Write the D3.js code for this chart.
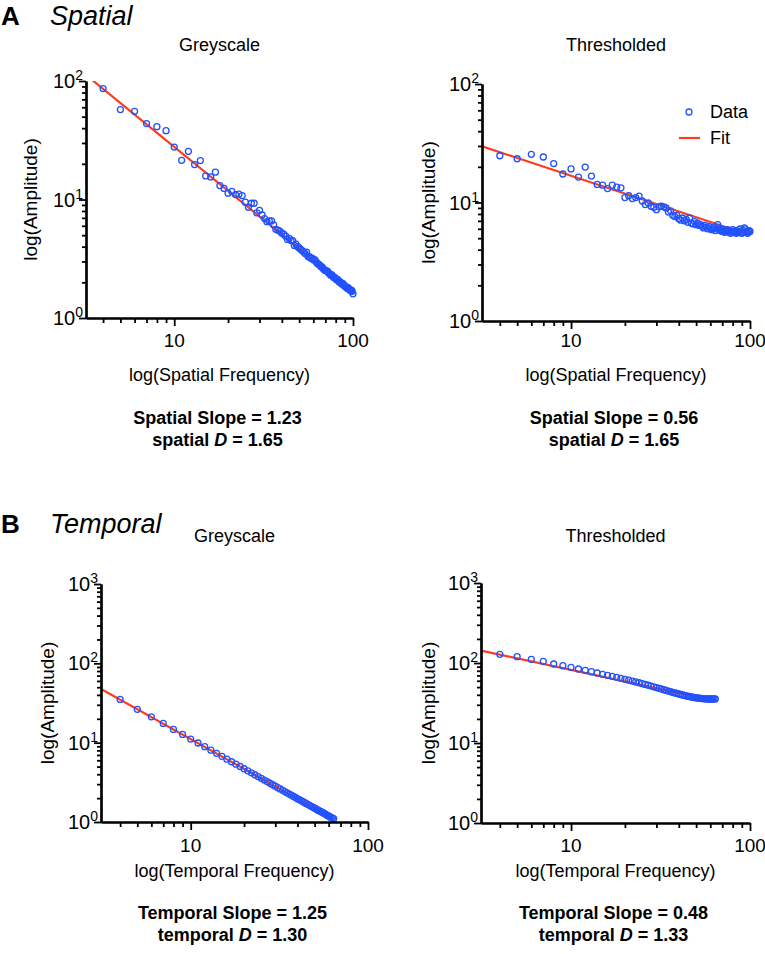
<!DOCTYPE html>
<html><head><meta charset="utf-8">
<script src="https://cdn.jsdelivr.net/npm/d3@7"></script>
<style>
body{margin:0;background:#fff}
text{font-family:"Liberation Sans",Arial,Helvetica,sans-serif;fill:#000}
</style></head>
<body><svg id="c" width="765" height="954"></svg>
<script>
// ---------------- DATA ----------------
const spatialFreq = [4,5,6,7,8,9,10,11,12,13,14,15,16,17,18,19,20,21,22,23,24,25,26,27,28,29,30,
 31,32,33,34,35,36,37,38,39,40,41,42,43,44,45,46,47,48,49,50,51,52,53,54,55,56,57,58,59,60,
 61,62,63,64,65,66,67,68,69,70,71,72,73,74,75,76,77,78,79,80,81,82,83,84,85,86,87,88,89,90,
 91,92,93,94,95,96,97,98,99,100];
const spatialGreyAmp = [86.3,57.4,55.5,43.7,41.2,38.1,27.7,21.4,25.5,19.7,21.3,15.8,15.5,17.0,13.1,12.4,11.3,11.7,11.0,11.1,10.8,9.5,8.6,9.3,9.3,7.7,8.1,
 7.4,6.9,6.5,6.6,6.6,6.1,5.6,5.5,5.4,5.2,5.1,4.9,4.6,4.7,4.5,4.5,4.1,4.2,4.0,3.9,3.8,3.7,3.6,3.5,3.6,3.3,3.3,3.2,3.2,3.1,
 3.1,3.0,2.9,2.85,2.8,2.72,2.7,2.62,2.55,2.52,2.5,2.48,2.4,2.36,2.3,2.32,2.25,2.2,2.2,2.14,2.1,2.12,2.05,2.0,2.02,1.96,1.93,1.95,1.88,1.85,
 1.85,1.8,1.78,1.8,1.75,1.72,1.7,1.72,1.68,1.6];
const spatialThreshAmp = [24.8,23.4,25.5,24.2,21.3,17.4,19.2,16.4,19.9,16.7,14.2,14.0,13.1,14.0,13.5,13.3,11.0,11.4,10.8,11.0,11.3,10.3,9.6,9.9,9.3,9.1,8.7,
 9.2,9.3,9.2,9.0,8.3,8.5,7.8,7.6,7.8,7.3,7.1,7.4,7.0,7.2,6.8,7.4,6.7,6.6,6.9,6.5,6.7,6.4,6.5,6.3,6.1,6.4,6.2,6.0,6.3,6.1,
 5.9,6.0,6.2,5.8,6.0,6.5,6.1,5.8,5.9,5.7,5.9,5.6,5.8,5.7,5.9,5.6,5.8,5.5,5.7,5.9,5.7,5.6,5.8,5.5,5.6,5.7,5.9,6.0,5.6,5.5,
 5.6,5.8,6.1,6.0,5.6,5.7,5.5,5.7,5.8,5.7];
const temporalFreq = [4,5,6,7,8,9,10,11,12,13,14,15,16,17,18,19,20,21,22,23,24,25,26,27,28,29,30,
 31,32,33,34,35,36,37,38,39,40,41,42,43,44,45,46,47,48,49,50,51,52,53,54,55,56,57,58,59,60,61,62,63,64];
const temporalGreyAmp = [35.1,26.3,21.2,17.5,14.7,12.7,11.1,9.91,8.89,8.04,7.33,6.73,6.20,5.75,5.36,5.01,4.69,4.42,4.17,3.94,3.74,3.55,3.38,3.23,3.08,2.95,2.83,
 2.71,2.61,2.51,2.42,2.33,2.25,2.18,2.10,2.04,1.97,1.91,1.86,1.80,1.75,1.70,1.66,1.61,1.57,1.53,1.49,1.46,1.42,1.39,1.36,1.33,1.30,1.27,1.24,1.21,1.19,1.16,1.14,1.12,1.10];
const temporalThreshAmp = [128.5,120,111,105,97.2,92.6,88.3,84.1,80.9,77.8,75.0,72.1,70.1,68.1,66.2,64.3,62.5,61.0,59.5,58.0,56.6,55.2,53.9,52.7,51.5,50.4,49.3,
 48.3,47.3,46.3,45.4,44.6,43.8,43.0,42.3,41.6,41.0,40.4,39.8,39.3,38.8,38.4,38.0,37.6,37.3,37.0,36.7,36.5,36.3,36.1,35.9,35.8,35.7,35.6,35.5,35.5,35.5,35.5,35.5,35.6,35.6];
// fitted power-law lines: |slope| and amplitude at frequency 10
const fitSlope = [1.23, 0.50, 1.25, 0.48];
const fitAt10 = [27.8, 16.8, 11.1, 81.9];
const panelTitles = ["Greyscale","Thresholded","Greyscale","Thresholded"];
const xTitles = ["log(Spatial Frequency)","log(Spatial Frequency)","log(Temporal Frequency)","log(Temporal Frequency)"];
const yTitle = "log(Amplitude)";
const slopeLabels = ["Spatial Slope = 1.23","Spatial Slope = 0.56","Temporal Slope = 1.25","Temporal Slope = 0.48"];
const dPrefix = ["spatial ","spatial ","temporal ","temporal "];
const dValues = ["1.65","1.65","1.30","1.33"];
const xTickLabels = [10,100];
const sectionLabels = ["A","B"];
const sectionNames = ["Spatial","Temporal"];
const legendLabels = ["Data","Fit"];

// ---------------- LAYOUT ----------------
const BLUE = "#2152ff", RED = "#ff3b1c";
const svg = d3.select("#c");
const panels = [
 {x0:86, x1:353, yTop:81, yBot:318, xmin:3.21, ymax:100, freq:spatialFreq, amp:spatialGreyAmp, xmaxFit:100, yTitleX:31, legend:false},
 {x0:482, x1:750, yTop:84, yBot:321, xmin:3.18, ymax:100, freq:spatialFreq, amp:spatialThreshAmp, xmaxFit:100, yTitleX:429, legend:true},
 {x0:101, x1:368, yTop:584, yBot:822, xmin:3.12, ymax:1000, freq:temporalFreq, amp:temporalGreyAmp, xmaxFit:64, yTitleX:48, legend:false},
 {x0:481, x1:750, yTop:583, yBot:823, xmin:3.14, ymax:1000, freq:temporalFreq, amp:temporalThreshAmp, xmaxFit:64, yTitleX:429, legend:false}
];
const rowText = [
 {title:51, tick:347, xt:381, s1:424, s2:446},
 {title:542, tick:852, xt:877, s1:919, s2:941}
];

// section headers
[[25,"A","Spatial"],[533,"B","Temporal"]].forEach((h,i)=>{
  svg.append("text").attr("x",1).attr("y",h[0]).attr("font-size",26).attr("font-weight","bold").text(sectionLabels[i]);
  svg.append("text").attr("x",50).attr("y",h[0]).attr("font-size",27).attr("font-style","italic").text(sectionNames[i]);
});

panels.forEach((p,i)=>{
  const row = rowText[i<2?0:1];
  const x = d3.scaleLog().domain([p.xmin,100]).range([p.x0,p.x1]);
  const y = d3.scaleLog().domain([1,p.ymax]).range([p.yBot,p.yTop]);
  const g = svg.append("g");
  const cx = (p.x0+p.x1)/2;

  const cid = "clip"+i;
  svg.append("clipPath").attr("id",cid).append("rect")
    .attr("x",p.x0).attr("y",p.yTop).attr("width",p.x1-p.x0).attr("height",p.yBot-p.yTop);

  // fit line
  const fitF = f => fitAt10[i]*Math.pow(f/10,-fitSlope[i]);
  const fx = [p.xmin, p.xmaxFit];
  g.append("line").attr("clip-path",`url(#${cid})`)
    .attr("x1",x(fx[0])).attr("y1",y(fitF(fx[0])))
    .attr("x2",x(fx[1])).attr("y2",y(fitF(fx[1])))
    .attr("stroke",RED).attr("stroke-width",2.2);

  // data
  g.selectAll("circle.d").data(p.freq).enter().append("circle")
    .attr("cx",d=>x(d)).attr("cy",(d,k)=>y(p.amp[k])).attr("r",3)
    .attr("fill","none").attr("stroke",BLUE).attr("stroke-width",1.3);

  // axes
  const decades = [];
  for(let v=1; v<=p.ymax; v*=10) decades.push(v);
  const yMinor = [];
  decades.slice(0,-1).forEach(d=>{ for(let k=2;k<10;k++) yMinor.push(d*k); });
  const xMinor = [4,5,6,7,8,9,20,30,40,50,60,70,80,90];

  const ya = g.append("g").attr("transform",`translate(${p.x0},0)`);
  ya.call(d3.axisLeft(y).tickValues(yMinor).tickSize(4).tickSizeOuter(0).tickFormat(""));
  ya.append("g").call(d3.axisLeft(y).tickValues(decades).tickSize(7).tickSizeOuter(0).tickFormat(""));
  const xa = g.append("g").attr("transform",`translate(0,${p.yBot})`);
  xa.call(d3.axisBottom(x).tickValues(xMinor).tickSize(5).tickSizeOuter(0).tickFormat(""));
  xa.append("g").call(d3.axisBottom(x).tickValues(xTickLabels).tickSize(8).tickSizeOuter(0).tickFormat(""));
  g.selectAll(".domain").attr("stroke","#000").attr("stroke-width",2.2);
  g.selectAll(".tick line").attr("stroke","#000").attr("stroke-width",1.8);

  // y tick labels 10^n
  decades.forEach(v=>{
    const t = g.append("text").attr("x",p.x0-3).attr("y",y(v)+7)
      .attr("text-anchor","end").attr("font-size",20);
    t.append("tspan").text("10");
    t.append("tspan").attr("dy",-8).attr("font-size",14).text(String(Math.round(Math.log10(v))));
  });
  // x tick labels
  xTickLabels.forEach(v=>{
    g.append("text").attr("x",x(v)).attr("y",row.tick).attr("text-anchor","middle")
      .attr("font-size",19).text(v);
  });

  // titles
  g.append("text").attr("x",cx).attr("y",row.title).attr("text-anchor","middle").attr("font-size",18).text(panelTitles[i]);
  g.append("text").attr("x",cx).attr("y",row.xt).attr("text-anchor","middle").attr("font-size",18).text(xTitles[i]);
  g.append("text").attr("transform",`translate(${p.yTitleX+6},${(p.yTop+p.yBot)/2}) rotate(-90)`)
    .attr("text-anchor","middle").attr("font-size",19).text(yTitle);

  // stats
  g.append("text").attr("x",cx-2).attr("y",row.s1).attr("text-anchor","middle")
    .attr("font-size",18).attr("font-weight","bold").text(slopeLabels[i]);
  const s2 = g.append("text").attr("x",cx-2).attr("y",row.s2).attr("text-anchor","middle")
    .attr("font-size",18).attr("font-weight","bold");
  s2.append("tspan").text(dPrefix[i]);
  s2.append("tspan").attr("font-style","italic").text("D");
  s2.append("tspan").text(" = "+dValues[i]);

  // legend
  if(p.legend){
    const lg = g.append("g");
    lg.append("circle").attr("cx",689).attr("cy",112).attr("r",3).attr("fill","none").attr("stroke",BLUE).attr("stroke-width",1.3);
    lg.append("text").attr("x",710).attr("y",118).attr("font-size",18).text(legendLabels[0]);
    lg.append("line").attr("x1",679).attr("x2",700).attr("y1",138).attr("y2",138).attr("stroke",RED).attr("stroke-width",2.2);
    lg.append("text").attr("x",710).attr("y",144).attr("font-size",18).text(legendLabels[1]);
  }
});
</script></body></html>
